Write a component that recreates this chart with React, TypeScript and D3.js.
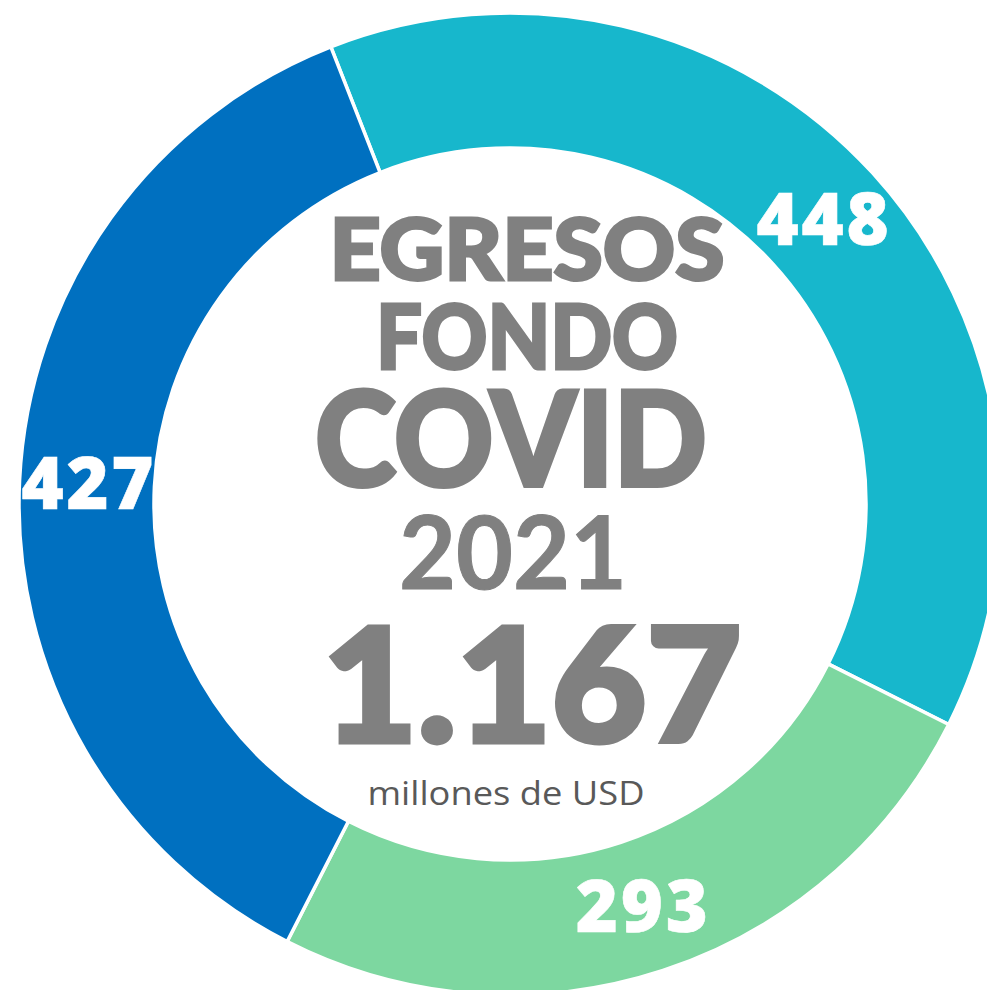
import React from 'react';
import * as d3 from 'd3';

const categories = ['Segmento A', 'Segmento B', 'Segmento C'];
const values = [448, 293, 427];
const colors = ['#17B7CC', '#7DD7A0', '#0070C0'];
const titleLines = ['EGRESOS', 'FONDO', 'COVID', '2021'];
const totalLabel = '1.167';
const unitLabel = 'millones de USD';

const W = 987;
const H = 990;
const cx = 510;
const cy = 504;
const outerR = 491;
const innerR = 356;
const start = (-21.4 * Math.PI) / 180;

export default function App() {
  const data = categories.map((c, i) => ({ name: c, value: values[i], color: colors[i] }));
  const pie = d3
    .pie<any>()
    .sort(null)
    .value((d: any) => d.value)
    .startAngle(start)
    .endAngle(start + Math.PI * 2);
  const arcs = pie(data);
  const arc = d3.arc<any>().innerRadius(innerR).outerRadius(outerR);
  const labelArc = d3.arc<any>().innerRadius(423).outerRadius(423);
  const labelSize = 72;
  const grey = '#808080';
  const bold = 'Lato, "Open Sans", sans-serif';

  return (
    <svg width={W} height={H} style={{ position: 'absolute', left: 0, top: 0 }}>
      <rect width={W} height={H} fill="#ffffff" />
      <g transform={`translate(${cx},${cy})`}>
        {arcs.map((a, i) => (
          <path key={i} d={arc(a) as string} fill={a.data.color} stroke="#ffffff" strokeWidth={3.5} />
        ))}
        {arcs.map((a, i) => {
          const [x, y] = labelArc.centroid(a);
          return (
            <text
              key={'l' + i}
              x={x}
              y={y + labelSize * 0.36}
              textAnchor="middle"
              fill="#ffffff"
              stroke="#ffffff"
              strokeWidth={0.6}
              fontFamily={'"Open Sans", sans-serif'}
              fontWeight={800}
              fontSize={labelSize}
              textLength={132}
            >
              {a.data.value}
            </text>
          );
        })}
      </g>
      <g fill={grey} stroke={grey} textAnchor="middle">
        <text x={527} y={280} fontFamily={bold} fontWeight={900} fontSize={86} strokeWidth={3} textLength={395} lengthAdjust="spacingAndGlyphs">
          {titleLines[0]}
        </text>
        <text x={527} y={369} fontFamily={bold} fontWeight={900} fontSize={90} strokeWidth={3} textLength={302} lengthAdjust="spacingAndGlyphs">
          {titleLines[1]}
        </text>
        <text x={511} y={486} fontFamily={bold} fontWeight={900} fontSize={132} strokeWidth={4} textLength={392} lengthAdjust="spacingAndGlyphs">
          {titleLines[2]}
        </text>
        <text x={513} y={589} fontFamily={bold} fontWeight={700} fontSize={102} strokeWidth={1} textLength={228} lengthAdjust="spacingAndGlyphs">
          {titleLines[3]}
        </text>
        <text x={532} y={742} fontFamily={bold} fontWeight={900} fontSize={158} strokeWidth={5} textLength={419} lengthAdjust="spacingAndGlyphs">
          {totalLabel}
        </text>
        <text x={506} y={805} fontFamily={'"Open Sans", sans-serif'} fontWeight={400} fontSize={32} fill="#595959" stroke="none" textLength={277} lengthAdjust="spacingAndGlyphs">
          {unitLabel}
        </text>
      </g>
    </svg>
  );
}
